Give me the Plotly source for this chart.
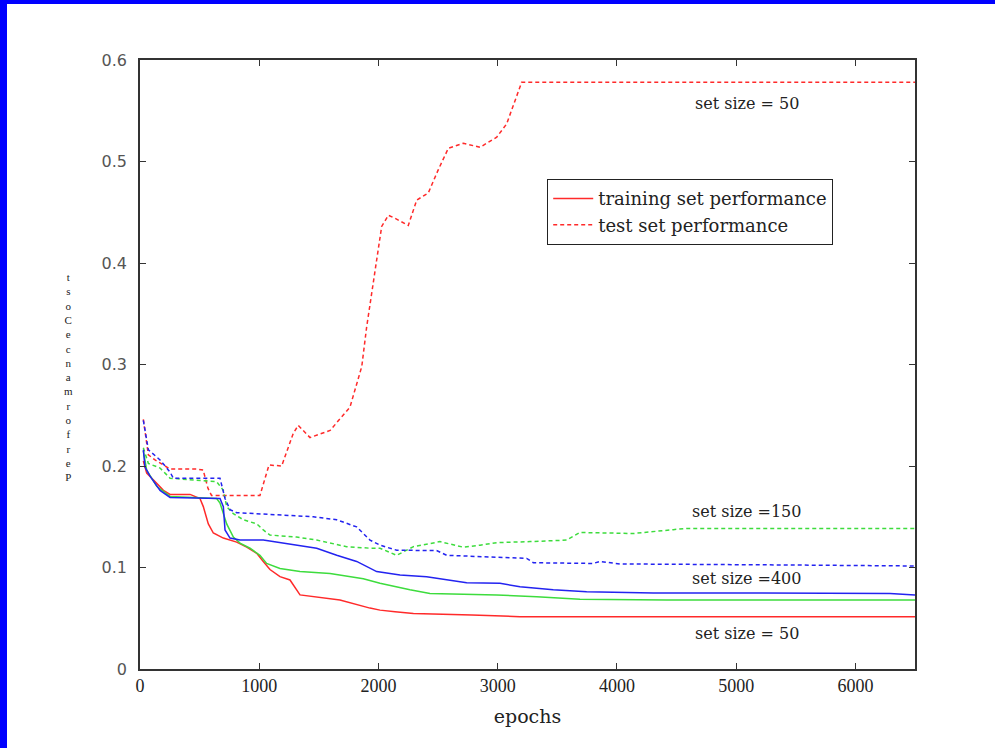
import plotly.graph_objects as go

# ---- data ----
red_train_x = [28, 56, 140, 196, 252, 420, 503, 531, 573, 615, 699, 811, 895, 979, 1034, 1090, 1174, 1258, 1342, 1677, 1929, 2013, 2139, 2293, 2782, 3187, 6500]
red_train_y = [0.205, 0.193, 0.183, 0.176, 0.172, 0.172, 0.168, 0.160, 0.143, 0.134, 0.129, 0.125, 0.120, 0.114, 0.106, 0.098, 0.091, 0.0877, 0.073, 0.068, 0.060, 0.058, 0.0565, 0.0548, 0.0532, 0.0515, 0.0515]

red_test_x = [28, 70, 126, 252, 475, 530, 570, 600, 755, 1006, 1082, 1188, 1285, 1327, 1426, 1594, 1761, 1803, 1860, 1901, 1943, 1985, 2027, 2083, 2139, 2250, 2321, 2418, 2502, 2586, 2712, 2852, 2992, 3075, 3145, 3201, 6500]
red_test_y = [0.246, 0.211, 0.206, 0.197, 0.197, 0.196, 0.178, 0.171, 0.171, 0.171, 0.201, 0.200, 0.232, 0.240, 0.228, 0.235, 0.258, 0.275, 0.298, 0.337, 0.370, 0.406, 0.436, 0.447, 0.444, 0.437, 0.462, 0.469, 0.492, 0.513, 0.518, 0.514, 0.524, 0.537, 0.559, 0.578, 0.578]

green_train_x = [28, 56, 140, 252, 643, 671, 727, 783, 839, 923, 1006, 1062, 1174, 1342, 1594, 1873, 2013, 2264, 2432, 2992, 3327, 3690, 4418, 6500]
green_train_y = [0.215, 0.196, 0.180, 0.170, 0.168, 0.1635, 0.143, 0.130, 0.124, 0.119, 0.112, 0.104, 0.099, 0.096, 0.094, 0.089, 0.0845, 0.078, 0.0745, 0.073, 0.0713, 0.0686, 0.068, 0.068]

green_test_x = [28, 70, 168, 252, 475, 643, 699, 727, 783, 867, 979, 1034, 1090, 1314, 1482, 1594, 1733, 1929, 2013, 2153, 2293, 2516, 2712, 2852, 2992, 3271, 3578, 3690, 4138, 4473, 4585, 6500]
green_test_y = [0.218, 0.2025, 0.198, 0.188, 0.186, 0.1845, 0.176, 0.160, 0.153, 0.147, 0.143, 0.137, 0.132, 0.130, 0.127, 0.124, 0.1205, 0.119, 0.119, 0.112, 0.1205, 0.1255, 0.120, 0.122, 0.1245, 0.1255, 0.127, 0.1345, 0.1335, 0.1373, 0.1385, 0.1385]

blue_train_x = [28, 42, 84, 168, 252, 671, 699, 713, 755, 839, 1034, 1174, 1342, 1482, 1650, 1817, 1985, 2181, 2404, 2572, 2740, 3019, 3187, 3466, 3746, 4306, 6290, 6500]
blue_train_y = [0.216, 0.199, 0.190, 0.176, 0.169, 0.168, 0.160, 0.137, 0.129, 0.127, 0.127, 0.1245, 0.122, 0.119, 0.112, 0.106, 0.096, 0.0926, 0.091, 0.0877, 0.085, 0.0845, 0.081, 0.078, 0.076, 0.075, 0.0745, 0.073]

blue_test_x = [28, 70, 168, 252, 280, 671, 713, 755, 811, 1174, 1454, 1650, 1817, 1929, 2013, 2153, 2488, 2572, 2852, 3243, 3299, 3802, 3858, 4026, 5424, 6500]
blue_test_y = [0.245, 0.216, 0.206, 0.194, 0.188, 0.188, 0.168, 0.157, 0.154, 0.152, 0.150, 0.147, 0.140, 0.127, 0.122, 0.117, 0.1167, 0.112, 0.1106, 0.109, 0.1047, 0.104, 0.106, 0.1035, 0.1025, 0.1015]

x_ticks = [0, 1000, 2000, 3000, 4000, 5000, 6000]
y_ticks = [0, 0.1, 0.2, 0.3, 0.4, 0.5, 0.6]

labels = [("set size = 50", 0.578), ("set size =150", 0.138), ("set size =400", 0.074), ("set size = 50", 0.052)]
y_title = "Performance Cost"

RED = "#ff2a2a"
GREEN = "#3ddc3d"
BLUE = "#2323f0"
DASH = "4px,3px"
SERIF = "Liberation Serif"
WIDE_SERIF = "DejaVu Serif"

W, H = 995, 748
ML, MR, MT, MB = 140, 80, 60, 79

fig = go.Figure()

def add(x, y, color, dash, name, show):
    fig.add_trace(go.Scatter(x=x, y=y, mode="lines", name=name, showlegend=show,
                             line=dict(color=color, width=1.5, dash=dash)))

add(red_train_x, red_train_y, RED, "solid", "training set performance", True)
add(red_test_x, red_test_y, RED, DASH, "test set performance", True)
add(green_train_x, green_train_y, GREEN, "solid", "", False)
add(green_test_x, green_test_y, GREEN, DASH, "", False)
add(blue_train_x, blue_train_y, BLUE, "solid", "", False)
add(blue_test_x, blue_test_y, BLUE, DASH, "", False)

annotations = []
label_offsets = [-21, 17, 15, -17]
for (txt, yv), off in zip(labels, label_offsets):
    annotations.append(dict(x=5090, y=yv, xref="x", yref="y", text=txt, showarrow=False,
                            yshift=off, font=dict(family=WIDE_SERIF, size=16, color="#222")))

pw = W - ML - MR
ph = H - MT - MB
def px2paper_x(p):
    return (p - ML) / pw
def py2paper_y(p):
    return (H - MB - p) / ph

# stacked y title letters (reversed, upright) as one text block
letters = [c for c in y_title[::-1] if c != " "]
annotations.append(dict(x=px2paper_x(68), y=py2paper_y(377), xref="paper", yref="paper",
                        text="<br>".join(letters), showarrow=False, align="center",
                        xanchor="center", yanchor="middle",
                        font=dict(family=SERIF, size=11, color="#222")))

shapes = [
    dict(type="rect", xref="paper", yref="paper", x0=px2paper_x(0), x1=px2paper_x(7),
         y0=py2paper_y(H), y1=py2paper_y(0), fillcolor="#0000ff", line=dict(width=0), layer="above"),
    dict(type="rect", xref="paper", yref="paper", x0=px2paper_x(0), x1=px2paper_x(W),
         y0=py2paper_y(4), y1=py2paper_y(0), fillcolor="#0000ff", line=dict(width=0), layer="above"),
]

fig.update_layout(
    width=W, height=H,
    margin=dict(l=ML, r=MR, t=MT, b=MB),
    paper_bgcolor="white", plot_bgcolor="white",
    showlegend=True,
    legend=dict(x=px2paper_x(547), y=py2paper_y(179), xanchor="left", yanchor="top",
                bgcolor="white", bordercolor="#222", borderwidth=1.2,
                font=dict(family=WIDE_SERIF, size=18, color="#222"),
                tracegroupgap=0, itemwidth=40),
    annotations=annotations,
    shapes=shapes,
)

fig.update_xaxes(range=[0, 6500], tickvals=x_ticks, ticktext=[str(v) for v in x_ticks],
                 showgrid=False, zeroline=False, showline=True, mirror="ticks",
                 linecolor="#333", linewidth=1.5, ticks="inside", ticklen=6, tickcolor="#333",
                 tickfont=dict(family=SERIF, size=18, color="#222"),
                 title=dict(text="epochs", font=dict(family=WIDE_SERIF, size=19, color="#222"), standoff=14))
fig.update_yaxes(range=[0, 0.6], tickvals=y_ticks, ticktext=["0", "0.1", "0.2", "0.3", "0.4", "0.5", "0.6"],
                 showgrid=False, zeroline=False, showline=True, mirror="ticks",
                 linecolor="#333", linewidth=1.5, ticks="inside", ticklen=6, tickcolor="#333",
                 ticklabelstandoff=8,
                 tickfont=dict(family="DejaVu Sans", size=16, color="#555"))

fig.write_html("out.html", config={"displayModeBar": False},
               post_script="document.body.style.margin='0';document.body.style.padding='0';document.body.style.overflow='hidden';")
